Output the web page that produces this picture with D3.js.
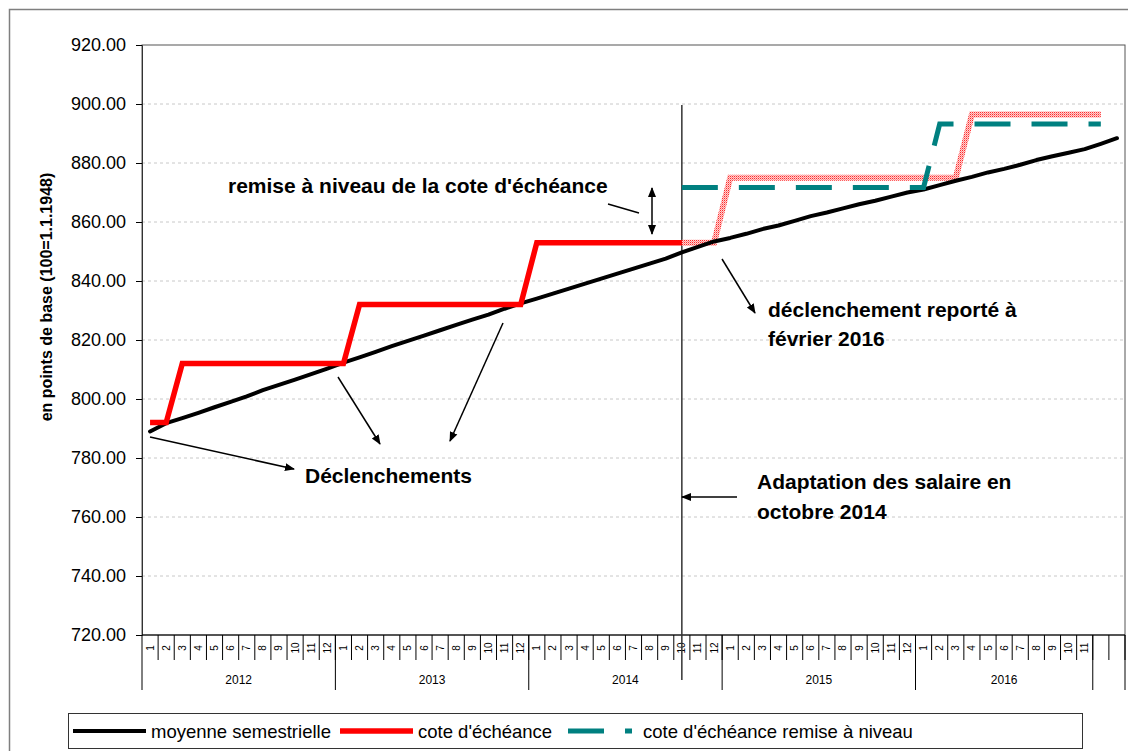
<!DOCTYPE html>
<html>
<head>
<meta charset="utf-8">
<script src="https://cdn.jsdelivr.net/npm/d3@7/dist/d3.min.js"></script>
<style>
  body { margin: 0; background: #fff; }
  svg { font-family: "Liberation Sans", Arial, sans-serif; }
</style>
</head>
<body>
<div id="chart"></div>
<script>
// category axis: years and their months
const yearLabels = ["2012", "2013", "2014", "2015", "2016", ""];
const monthLabels = [
  ["1","2","3","4","5","6","7","8","9","10","11","12"],
  ["1","2","3","4","5","6","7","8","9","10","11","12"],
  ["1","2","3","4","5","6","7","8","9","10","11","12"],
  ["1","2","3","4","5","6","7","8","9","10","11","12"],
  ["1","2","3","4","5","6","7","8","9","10","11"],
  ["", ""]
];

// moyenne semestrielle (61 points)
const moyenne = [
  789.0, 791.8, 793.5, 795.3, 797.2, 799.0, 800.9, 803.0, 804.8, 806.6, 808.4, 810.3,
  812.3, 814.1, 816.0, 817.9, 819.7, 821.5, 823.3, 825.1, 826.9, 828.6, 830.6, 832.4,
  834.0, 835.7, 837.4, 839.1, 840.8, 842.5, 844.2, 845.9, 847.6, 849.7, 851.6, 853.4,
  854.6, 856.0, 857.6, 858.8, 860.4, 862.0, 863.2, 864.6, 866.0, 867.2, 868.6, 870.0,
  871.0, 872.5, 874.0, 875.3, 876.8, 878.0, 879.4, 881.0, 882.3, 883.5, 884.7,
  886.5, 888.4
];

// cote d'échéance (realised part)
const cote = [
  792, 792, 812, 812, 812, 812, 812, 812, 812, 812, 812, 812,
  812, 832, 832, 832, 832, 832, 832, 832, 832, 832, 832, 832,
  853, 853, 853, 853, 853, 853, 853, 853, 853, 853, null, null,
  null, null, null, null, null, null, null, null, null, null, null, null,
  null, null, null, null, null, null, null, null, null, null, null,
  null, null
];

// cote d'échéance (projected part, dotted)
const coteProjetee = [
  null, null, null, null, null, null, null, null, null, null, null, null,
  null, null, null, null, null, null, null, null, null, null, null, null,
  null, null, null, null, null, null, null, null, null, 853, 853, 853,
  875, 875, 875, 875, 875, 875, 875, 875, 875, 875, 875, 875,
  875, 875, 875, 896.4, 896.4, 896.4, 896.4, 896.4, 896.4, 896.4, 896.4,
  896.4, null
];

// cote d'échéance remise à niveau
const coteRemise = [
  null, null, null, null, null, null, null, null, null, null, null, null,
  null, null, null, null, null, null, null, null, null, null, null, null,
  null, null, null, null, null, null, null, null, null, 871.7, 871.7, 871.7,
  871.7, 871.7, 871.7, 871.7, 871.7, 871.7, 871.7, 871.7, 871.7, 871.7, 871.7, 871.7,
  871.7, 893.2, 893.2, 893.2, 893.2, 893.2, 893.2, 893.2, 893.2, 893.2, 893.2,
  893.2, null
];

const yTicks = [720, 740, 760, 780, 800, 820, 840, 860, 880, 900, 920];

const w = 1128, h = 751;
const pLeft = 142, pRight = 1125, pTop = 45, pBottom = 635;

// flat list of categories
const cats = [];
monthLabels.forEach((ms, yi) => ms.forEach((m, mi) => cats.push({key: yi + "-" + mi, year: yi, month: m})));

const svg = d3.select("#chart").append("svg")
  .attr("width", w).attr("height", h);

const defs = svg.append("defs");
const pat = defs.append("pattern")
  .attr("id", "dots").attr("patternUnits", "userSpaceOnUse")
  .attr("width", 2).attr("height", 2);
pat.append("rect").attr("width", 2).attr("height", 2).attr("fill", "#ffd0d0");
pat.append("rect").attr("width", 1).attr("height", 1).attr("fill", "#ff2a2a");
pat.append("rect").attr("x", 1).attr("y", 1).attr("width", 1).attr("height", 1).attr("fill", "#ff8a8a");

defs.append("marker")
  .attr("id", "arrow").attr("viewBox", "0 0 10 10")
  .attr("refX", 9).attr("refY", 5)
  .attr("markerWidth", 10).attr("markerHeight", 10)
  .attr("markerUnits", "userSpaceOnUse")
  .attr("orient", "auto-start-reverse")
  .append("path").attr("d", "M0,1 L10,5 L0,9 Z").attr("fill", "#000");

// outer chart frame
svg.append("rect")
  .attr("x", 9.5).attr("y", 9.5).attr("width", 1140).attr("height", 780)
  .attr("fill", "none").attr("stroke", "#7f7f7f").attr("stroke-width", 1.5);

const x = d3.scaleBand().domain(cats.map(d => d.key)).range([pLeft, pRight]);
const y = d3.scaleLinear().domain([720, 920]).range([pBottom, pTop]);
const cx = i => x(cats[i].key) + x.bandwidth() / 2;

// gridlines
svg.append("g").selectAll("line")
  .data(yTicks.filter(t => t > 720 && t < 920))
  .enter().append("line")
  .attr("x1", pLeft).attr("x2", pRight)
  .attr("y1", d => y(d)).attr("y2", d => y(d))
  .attr("stroke", "#c8c8c8").attr("stroke-dasharray", "3,3");

// plot box
svg.append("rect")
  .attr("x", pLeft).attr("y", pTop).attr("width", pRight - pLeft).attr("height", pBottom - pTop)
  .attr("fill", "none").attr("stroke", "#555").attr("stroke-width", 1);

// Y axis
const yAxis = d3.axisLeft(y).tickValues(yTicks).tickFormat(d3.format(".2f"))
  .tickSize(6).tickPadding(10);
const gy = svg.append("g").attr("transform", "translate(" + pLeft + ",0)").call(yAxis);
gy.selectAll("text").style("font-size", "18px").attr("fill", "#000");
gy.select(".domain").attr("stroke", "#333");

svg.append("text")
  .attr("transform", "translate(52," + ((pTop + pBottom) / 2 - 43) + ") rotate(-90)")
  .attr("text-anchor", "middle")
  .style("font-size", "16px").style("font-weight", "bold")
  .text("en points de base (100=1.1.1948)");

// X axis: month cells
const gx = svg.append("g");
gx.append("line").attr("x1", pLeft).attr("x2", pRight).attr("y1", pBottom).attr("y2", pBottom)
  .attr("stroke", "#000");
gx.selectAll("line.mt").data(cats).enter().append("line")
  .attr("class", "mt")
  .attr("x1", d => x(d.key) + x.bandwidth()).attr("x2", d => x(d.key) + x.bandwidth())
  .attr("y1", pBottom).attr("y2", 660).attr("stroke", "#000");
gx.selectAll("text.mt").data(cats).enter().append("text")
  .attr("class", "mt")
  .attr("transform", d => "translate(" + (x(d.key) + x.bandwidth() / 2 + 3.5) + ",648) rotate(-90)")
  .attr("text-anchor", "middle")
  .style("font-size", "10px")
  .text(d => d.month);

// year groups
const groups = yearLabels.map((yl, yi) => {
  const cs = cats.filter(c => c.year === yi);
  return {label: yl, x0: x(cs[0].key), x1: x(cs[cs.length - 1].key) + x.bandwidth()};
});
gx.selectAll("line.yr").data(groups).enter().append("line")
  .attr("class", "yr")
  .attr("x1", d => d.x1).attr("x2", d => d.x1)
  .attr("y1", pBottom).attr("y2", 690).attr("stroke", "#000");
gx.append("line").attr("x1", pLeft).attr("x2", pLeft).attr("y1", pBottom).attr("y2", 690).attr("stroke", "#000");
gx.selectAll("text.yr").data(groups).enter().append("text")
  .attr("class", "yr")
  .attr("x", d => (d.x0 + d.x1) / 2).attr("y", 684)
  .attr("text-anchor", "middle")
  .style("font-size", "12px")
  .text(d => d.label);

// vertical marker at october 2014
svg.append("line")
  .attr("x1", cx(33)).attr("x2", cx(33)).attr("y1", 105).attr("y2", 680)
  .attr("stroke", "#333").attr("stroke-width", 1.5);

// series
const line = d3.line().defined(d => d != null)
  .x((d, i) => cx(i)).y(d => y(d));

svg.append("path").datum(coteProjetee).attr("d", line)
  .attr("fill", "none").attr("stroke", "url(#dots)").attr("stroke-width", 6);
svg.append("path").datum(moyenne).attr("d", line)
  .attr("fill", "none").attr("stroke", "#000").attr("stroke-width", 4)
  .attr("stroke-linejoin", "round").attr("stroke-linecap", "round");
svg.append("path").datum(cote).attr("d", line)
  .attr("fill", "none").attr("stroke", "#ff0000").attr("stroke-width", 5.5)
  .attr("stroke-linejoin", "miter");
svg.append("path").datum(coteRemise).attr("d", line)
  .attr("fill", "none").attr("stroke", "#008080").attr("stroke-width", 5)
  .attr("stroke-dasharray", "36,21");

// annotations
const ann = svg.append("g").style("font-weight", "bold").attr("fill", "#000")
  .style("font-size", "21px");
ann.append("text").attr("x", 228).attr("y", 193).text("remise à niveau de la cote d'échéance");
ann.append("text").attr("x", 305).attr("y", 483).text("Déclenchements");
ann.append("text").attr("x", 768).attr("y", 317).text("déclenchement reporté à");
ann.append("text").attr("x", 768).attr("y", 346).text("février 2016");
ann.append("text").attr("x", 757).attr("y", 489).text("Adaptation des salaire en");
ann.append("text").attr("x", 757).attr("y", 519).text("octobre 2014");

const arrows = [
  [150, 437, 294, 469, true],
  [338, 377, 380, 444, true],
  [503, 323, 450, 441, true],
  [722, 259, 755, 313, true],
  [737, 497, 682, 497, true],
  [608, 204, 639, 213, false]
];
svg.append("g").selectAll("line").data(arrows).enter().append("line")
  .attr("x1", d => d[0]).attr("y1", d => d[1]).attr("x2", d => d[2]).attr("y2", d => d[3])
  .attr("stroke", "#000").attr("stroke-width", 1.5)
  .attr("marker-end", d => d[4] ? "url(#arrow)" : null);
svg.append("line")
  .attr("x1", 652).attr("x2", 652).attr("y1", 188).attr("y2", 234)
  .attr("stroke", "#000").attr("stroke-width", 1.5)
  .attr("marker-start", "url(#arrow)").attr("marker-end", "url(#arrow)");

// legend
const lg = svg.append("g").style("font-size", "18.5px");
lg.append("rect").attr("x", 68.5).attr("y", 713.5).attr("width", 1014).attr("height", 35)
  .attr("fill", "#fff").attr("stroke", "#333");
const ly = 731;
lg.append("line").attr("x1", 73).attr("x2", 146).attr("y1", ly).attr("y2", ly)
  .attr("stroke", "#000").attr("stroke-width", 4);
lg.append("text").attr("x", 151).attr("y", ly + 6.5).text("moyenne semestrielle");
lg.append("line").attr("x1", 340).attr("x2", 413).attr("y1", ly).attr("y2", ly)
  .attr("stroke", "#ff0000").attr("stroke-width", 5.5);
lg.append("text").attr("x", 418).attr("y", ly + 6.5).text("cote d'échéance");
lg.append("line").attr("x1", 568).attr("x2", 632).attr("y1", ly).attr("y2", ly)
  .attr("stroke", "#008080").attr("stroke-width", 5).attr("stroke-dasharray", "36,21");
lg.append("text").attr("x", 643).attr("y", ly + 6.5).text("cote d'échéance remise à niveau");
</script>
</body>
</html>
